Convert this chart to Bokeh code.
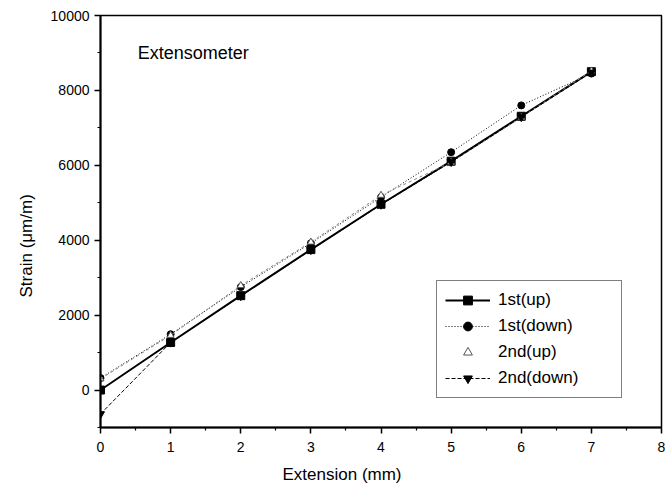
from bokeh.plotting import figure
from bokeh.models import FixedTicker, Legend, LegendItem, Range1d, Title
from bokeh.embed import file_html
from bokeh.resources import INLINE

extension = [0, 1, 2, 3, 4, 5, 6, 7]
first_up = [0, 1270, 2520, 3750, 4960, 6110, 7310, 8500]
first_down = [320, 1490, 2750, 3920, 5150, 6350, 7600, 8450]
second_up = [300, 1460, 2790, 3950, 5200, 6080, 7280, 8520]
second_down = [-640, 1270, 2510, 3740, 4950, 6090, 7290, 8480]
x_ticks = [0, 1, 2, 3, 4, 5, 6, 7, 8]
y_ticks = [0, 2000, 4000, 6000, 8000, 10000]

FONT = "Liberation Sans"

p = figure(width=665, height=493, output_backend="svg", toolbar_location=None,
           x_range=Range1d(0, 8), y_range=Range1d(-1000, 10000),
           min_border_left=100, min_border_right=4, min_border_top=15, min_border_bottom=66)
p.grid.visible = False
p.outline_line_color = "black"
p.outline_line_width = 1.5
p.background_fill_color = "white"
p.border_fill_color = "white"

p.xaxis.ticker = FixedTicker(ticks=x_ticks, minor_ticks=[v + 0.5 for v in x_ticks[:-1]])
p.yaxis.ticker = FixedTicker(ticks=y_ticks, minor_ticks=[-1000, 1000, 3000, 5000, 7000, 9000])
for ax in (p.xaxis[0], p.yaxis[0]):
    ax.axis_line_width = 2
    ax.axis_line_color = "black"
    ax.major_tick_out = 6
    ax.major_tick_in = 0
    ax.minor_tick_out = 3
    ax.minor_tick_in = 0
    ax.major_tick_line_width = 1.5
    ax.minor_tick_line_width = 1.2
    ax.major_label_text_font = FONT
    ax.major_label_text_font_size = "14px"
    ax.major_label_text_color = "black"
p.xaxis.major_label_standoff = 8
p.yaxis.major_label_standoff = 5

# axis titles, offset from the frame as in the original
x_title = Title(text="Extension (mm)", align="left", offset=182, standoff=17,
                text_font=FONT, text_font_size="17px", text_font_style="normal",
                text_color="black")
y_title = Title(text="Strain (\u03bcm/m)", align="left", offset=130, standoff=24,
                text_font=FONT, text_font_size="17px", text_font_style="normal",
                text_color="black")
p.add_layout(x_title, "below")
p.add_layout(y_title, "left")

l1 = p.line(extension, first_up, line_color="black", line_width=2)
m1 = p.scatter(extension, first_up, marker="square", size=8, color="black")
l2 = p.line(extension, first_down, line_color="black", line_width=1, line_dash="1 2")
m2 = p.scatter(extension, first_down, marker="circle", size=7, color="black")
l3 = p.line(extension, second_up, line_color="#888888", line_width=1, line_dash="3 3")
m3 = p.scatter(extension, second_up, marker="triangle", size=7, fill_color="white",
               line_color="#555555", line_width=1)
l4 = p.line(extension, second_down, line_color="black", line_width=1, line_dash="4 2")
m4 = p.scatter(extension, second_down, marker="inverted_triangle", size=8, color="black")

p.text(x=[0.53], y=[9000], text=["Extensometer"], text_font_size="18px",
       text_font={"value": FONT}, text_color="black", text_baseline="middle")

legend = Legend(items=[
    LegendItem(label="1st(up)", renderers=[l1, m1]),
    LegendItem(label="1st(down)", renderers=[l2, m2]),
    LegendItem(label="2nd(up)", renderers=[m3]),
    LegendItem(label="2nd(down)", renderers=[l4, m4]),
], location=(336, 29))
legend.label_text_font = FONT
legend.label_text_font_size = "17px"
legend.label_text_color = "black"
legend.border_line_color = "black"
legend.border_line_width = 1.5
legend.background_fill_alpha = 1
legend.glyph_width = 45
legend.glyph_height = 22
legend.label_height = 22
legend.label_width = 115
legend.spacing = 4
legend.padding = 8
legend.margin = 0
legend.label_standoff = 8
p.add_layout(legend, "center")

open("out.html", "w").write(file_html(p, INLINE))
